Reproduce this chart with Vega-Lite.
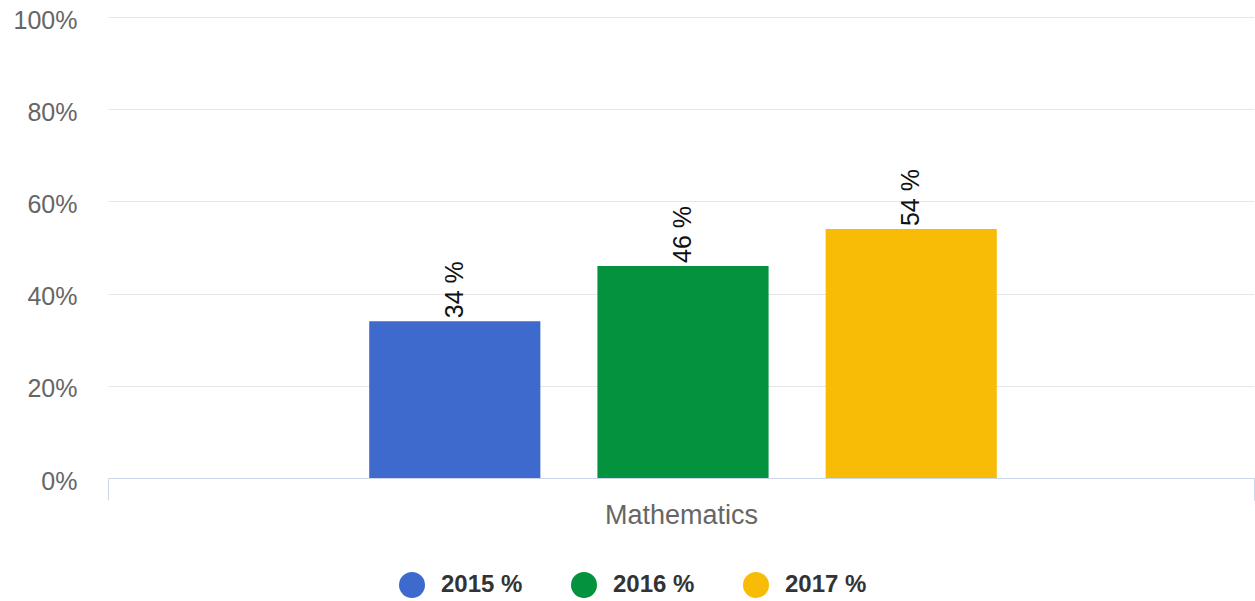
{
  "$schema": "https://vega.github.io/schema/vega-lite/v6.json",
  "autosize": {"type": "none"},
  "width": 1146,
  "height": 461,
  "padding": {"left": 108, "top": 17, "right": 1, "bottom": 123},
  "background": "white",
  "config": {"view": {"stroke": null}, "font": "Liberation Sans"},
  "data": {"values": [
    {"subject": "Mathematics", "year": "2015 %", "value": 34, "label": "34 %"},
    {"subject": "Mathematics", "year": "2016 %", "value": 46, "label": "46 %"},
    {"subject": "Mathematics", "year": "2017 %", "value": 54, "label": "54 %"}
  ]},
  "encoding": {
    "x": {
      "field": "subject", "type": "nominal", "title": null,
      "scale": {"paddingInner": 0, "paddingOuter": 0},
      "axis": {
        "labelAngle": 0, "labelFontSize": 27, "labelColor": "#666666",
        "domainColor": "#ccd6eb", "tickColor": "#ccd6eb", "tickSize": 22,
        "tickBand": "extent", "labelPadding": 2, "grid": false
      }
    },
    "xOffset": {
      "field": "year", "type": "nominal",
      "scale": {"paddingInner": 0.25, "paddingOuter": 1, "range": [33, 1117]}
    },
    "y": {
      "field": "value", "type": "quantitative", "title": null,
      "scale": {"domain": [0, 100]},
      "axis": {
        "values": [0, 20, 40, 60, 80, 100],
        "labelExpr": "datum.value + '%'",
        "labelFontSize": 25, "labelColor": "#666666",
        "domain": false, "ticks": false, "tickSize": 0,
        "labelPadding": 31, "labelOffset": 3,
        "grid": true, "gridColor": "#e6e6e6"
      }
    }
  },
  "layer": [
    {
      "mark": {"type": "bar"},
      "encoding": {
        "color": {
          "field": "year", "type": "nominal",
          "scale": {"domain": ["2015 %", "2016 %", "2017 %"], "range": ["#3f6acd", "#05923f", "#f8bb06"]},
          "legend": {
            "title": null, "orient": "none", "direction": "horizontal",
            "legendX": 291, "legendY": 555,
            "symbolType": "circle", "symbolSize": 676, "symbolStrokeWidth": 0,
            "labelFontSize": 24, "labelFontWeight": "bold", "labelColor": "#333333",
            "labelOffset": 16, "columnPadding": 48
          }
        }
      }
    },
    {
      "mark": {"type": "text", "angle": -90, "align": "left", "baseline": "middle", "dx": 3, "fontSize": 25, "color": "#111111"},
      "encoding": {
        "text": {"field": "label", "type": "nominal"}
      }
    }
  ]
}
